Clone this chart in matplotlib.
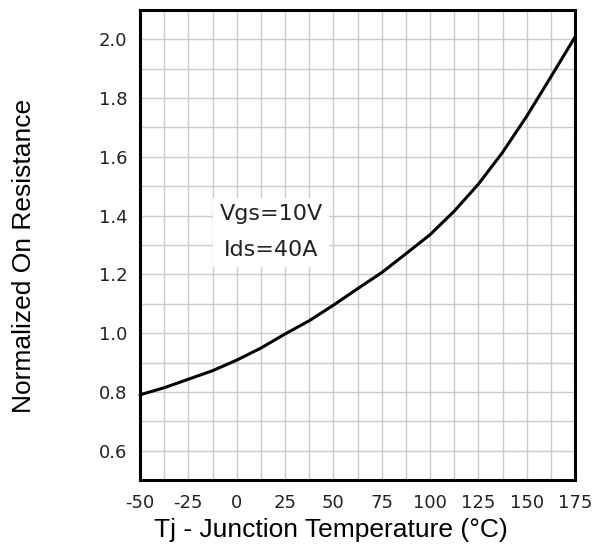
import matplotlib
matplotlib.use("Agg")
import matplotlib.pyplot as plt
from matplotlib.ticker import MultipleLocator

# ── data ──────────────────────────────────────────────────────────────────────

temp_c = [-50, -37.5, -25, -12.5, 0, 12.5, 25, 37.5, 50, 62.5, 75,
          87.5, 100, 112.5, 125, 137.5, 150, 162.5, 175]
rds_norm = [0.790, 0.814, 0.843, 0.872, 0.908, 0.949, 0.997, 1.042, 1.095,
            1.151, 1.206, 1.270, 1.335, 1.415, 1.507, 1.615, 1.738, 1.872, 2.008]

x_ticks = [-50, -25, 0, 25, 50, 75, 100, 125, 150, 175]
y_ticks = [0.6, 0.8, 1.0, 1.2, 1.4, 1.6, 1.8, 2.0]
conditions = ["Vgs=10V", "Ids=40A"]

# ── plot ──────────────────────────────────────────────────────────────────────

fig = plt.figure(figsize=(6.02, 5.48), dpi=100)
ax = fig.add_axes([140 / 602, 68 / 548, 435 / 602, 470 / 548])

ax.set_xlim(-50, 175)
ax.set_ylim(0.5, 2.1)

ax.xaxis.set_minor_locator(MultipleLocator(12.5))
ax.yaxis.set_minor_locator(MultipleLocator(0.1))
ax.set_xticks(x_ticks)
ax.set_xticklabels([str(t) for t in x_ticks])
ax.set_yticks(y_ticks)
ax.set_yticklabels([f"{t:.1f}" for t in y_ticks])
ax.grid(True, which="both", color="#cbcbcb", linewidth=1.0)
ax.set_axisbelow(True)

ax.tick_params(which="both", length=0)
ax.tick_params(axis="x", pad=10, labelsize=13, colors="#222222")
ax.tick_params(axis="y", pad=9, labelsize=13, colors="#222222")
for lbl in ax.get_xticklabels() + ax.get_yticklabels():
    lbl.set_fontfamily("DejaVu Sans")

for s in ax.spines.values():
    s.set_linewidth(2.2)
    s.set_color("black")

ax.plot(temp_c, rds_norm, color="black", linewidth=2.2, solid_capstyle="round",
        solid_joinstyle="round", clip_on=False, zorder=3)

ax.text(17.8, 1.343, "\n".join(conditions), ha="center", va="center",
        fontsize=16, family="DejaVu Sans", color="#222222", linespacing=2.0,
        bbox=dict(boxstyle="square,pad=0.3", facecolor="white", edgecolor="none"),
        zorder=4)

# axis titles placed as in the reference (slightly off the axes centre)
fig.text(331 / 602, 1 - 530 / 548, "Tj - Junction Temperature (°C)",
         fontsize=19, family="Liberation Sans", ha="center", va="center")
fig.text(24 / 602, 1 - 256 / 548, "Normalized On Resistance",
         fontsize=19, family="Liberation Sans", ha="center", va="center",
         rotation=90)

fig.savefig("out.png", dpi=100, facecolor="white")
